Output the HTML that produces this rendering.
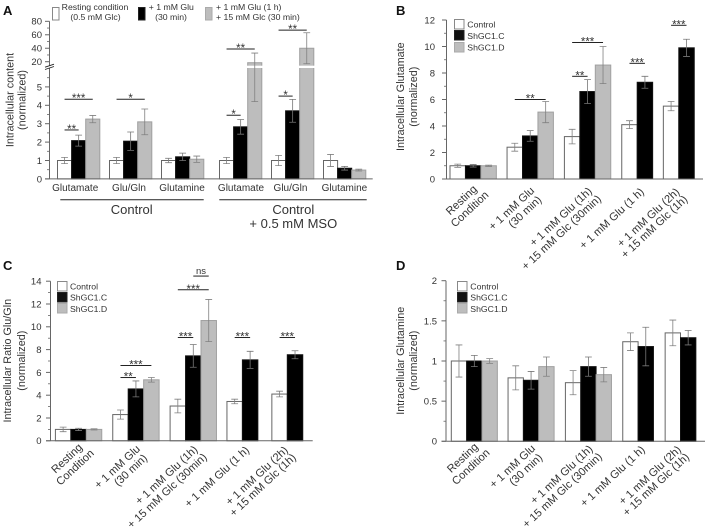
<!DOCTYPE html>
<html lang="en">
<head>
<meta charset="utf-8">
<title>Intracellular content charts</title>
<style>
html,body{margin:0;padding:0;background:#fff;}
#figure{display:block;width:708px;height:532px;font-family:"Liberation Sans",Arial,sans-serif;fill:#333;filter:blur(0.3px);}
.letter{font-size:13px;font-weight:bold;fill:#111;}
.title{font-size:10.8px;text-anchor:middle;}
.leg{font-size:8.7px;}
.legc{font-size:8.7px;text-anchor:middle;}
.big{font-size:13px;text-anchor:middle;}
</style>
</head>
<body>
<svg id="figure" xmlns="http://www.w3.org/2000/svg" width="708" height="532" viewBox="0 0 708 532">
  <rect x="0" y="0" width="708" height="532" fill="#fff"/>
  <text class="letter" x="3" y="15">A</text>
  <text class="letter" x="396" y="15">B</text>
  <text class="letter" x="3" y="270">C</text>
  <text class="letter" x="396" y="270">D</text>

  <text class="title" transform="translate(13.5,100) rotate(-90)">Intracellular content</text>
  <text class="title" transform="translate(25.5,100) rotate(-90)">(normalized)</text>
  <text class="title" transform="translate(404,96.7) rotate(-90)">Intracellular Glutamate</text>
  <text class="title" transform="translate(417,96.7) rotate(-90)">(normalized)</text>
  <text class="title" transform="translate(11,360.7) rotate(-90)">Intracellular Ratio Glu/Gln</text>
  <text class="title" transform="translate(25,360.7) rotate(-90)">(normalized)</text>
  <text class="title" transform="translate(404,360.7) rotate(-90)">Intracellular Glutamine</text>
  <text class="title" transform="translate(417,360.7) rotate(-90)">(normalized)</text>

  <g>
    <rect x="52.5" y="7.5" width="6.5" height="12.5" fill="#fff" stroke="#888"/>
    <text class="legc" x="95" y="10">Resting condition</text>
    <text class="legc" x="95.5" y="20">(0.5 mM Glc)</text>
    <rect x="138.5" y="7.5" width="6.5" height="12.5" fill="#000" stroke="#222"/>
    <text class="legc" x="171.3" y="10">+ 1 mM Glu</text>
    <text class="legc" x="171" y="20">(30 min)</text>
    <rect x="205.5" y="7.5" width="6.5" height="12.5" fill="#bdbdbd" stroke="#aaa"/>
    <text class="leg" x="216" y="10">+ 1 mM Glu (1 h)</text>
    <text class="leg" x="216" y="20">+ 15 mM Glc (30 min)</text>
  </g>

  <g>
    <line x1="60.3" x2="203.7" y1="199.7" y2="199.7" stroke="#222" stroke-width="1"/>
    <line x1="219.3" x2="366.7" y1="199.7" y2="199.7" stroke="#222" stroke-width="1"/>
    <text class="big" x="131.7" y="214">Control</text>
    <text class="big" x="293.3" y="214">Control</text>
    <text class="big" x="293.3" y="228">+ 0.5 mM MSO</text>
  </g>

  <g>
    <rect x="454.5" y="19.5" width="9.5" height="9.5" fill="#fff" stroke="#888"/>
    <text class="leg" x="467.3" y="27.5">Control</text>
    <rect x="454.5" y="30.5" width="9.5" height="9.5" fill="#111" stroke="#222"/>
    <text class="leg" x="467.3" y="39">ShGC1.C</text>
    <rect x="454.5" y="42.5" width="9.5" height="9.5" fill="#bdbdbd" stroke="#aaa"/>
    <text class="leg" x="467.3" y="50.5">ShGC1.D</text>
  </g>
  <g>
    <rect x="57.5" y="281.5" width="9.5" height="9.5" fill="#fff" stroke="#888"/>
    <text class="leg" x="70" y="289.5">Control</text>
    <rect x="57.5" y="292.5" width="9.5" height="9.5" fill="#111" stroke="#222"/>
    <text class="leg" x="70" y="300.5">ShGC1.C</text>
    <rect x="57.5" y="303.5" width="9.5" height="9.5" fill="#bdbdbd" stroke="#aaa"/>
    <text class="leg" x="70" y="312">ShGC1.D</text>
  </g>
  <g>
    <rect x="457.5" y="281.5" width="9.5" height="9.5" fill="#fff" stroke="#888"/>
    <text class="leg" x="470.3" y="289.5">Control</text>
    <rect x="457.5" y="292.5" width="9.5" height="9.5" fill="#111" stroke="#222"/>
    <text class="leg" x="470.3" y="300.5">ShGC1.C</text>
    <rect x="457.5" y="303.5" width="9.5" height="9.5" fill="#bdbdbd" stroke="#aaa"/>
    <text class="leg" x="470.3" y="312">ShGC1.D</text>
  </g>
</svg>
<script>
/* ---------- Panel A data ---------- */
const categoriesA = ['Glutamate', 'Glu/Gln', 'Glutamine', 'Glutamate', 'Glu/Gln', 'Glutamine'];
const restingA = [1, 1, 1, 1, 1, 1];
const gluA = [2.08, 2.05, 1.2, 2.83, 3.7, 0.58];
const gluGlcA = [3.25, 3.1, 1.07, 18.5, 40, 0.48];
const restingErrA = [0.17, 0.17, 0.12, 0.17, 0.28, 0.33];
const gluErrA = [0.3, 0.5, 0.2, 0.4, 0.62, 0.1];
const gluGlcErrA = [0.2, 0.7, 0.17, 14.3, 23, 0.05];
const lowerTicksA = [0, 1, 2, 3, 4, 5];
const upperTicksA = [20, 40, 60, 80];
const minorTicksA = [0.5, 1.5, 2.5, 3.5, 4.5, 5.5, 30, 50, 70];
const bracketsA = [
  {group: 0, from: 0, to: 2, level: 4.33, label: '***'},
  {group: 0, from: 0, to: 1, level: 2.66, label: '**'},
  {group: 1, from: 0, to: 2, level: 4.33, label: '*'},
  {group: 3, from: 0, to: 1, level: 3.46, label: '*'},
  {group: 3, from: 0, to: 2, level: 38.9, label: '**'},
  {group: 4, from: 0, to: 1, level: 4.5, label: '*'},
  {group: 4, from: 0, to: 2, level: 67, label: '**'}
];

/* ---------- Panel B data ---------- */
const categoriesB = [['Resting', 'Condition'], ['+ 1 mM Glu', '(30 min)'], ['+ 1 mM Glu (1h)', '+ 15 mM Glc (30min)'], ['+ 1 mM Glu (1 h)'], ['+ 1 mM Glu (2h)', '+ 15 mM Glc (1h)']];
const controlB = [1, 2.4, 3.2, 4.1, 5.5];
const shcB = [1, 3.25, 6.6, 7.3, 9.9];
const shdB = [1, 5.05, 8.6, null, null];
const controlErrB = [0.12, 0.3, 0.55, 0.3, 0.35];
const shcErrB = [0.1, 0.4, 0.9, 0.45, 0.65];
const shdErrB = [0.05, 0.8, 1.4, null, null];
const ticksB = [0, 2, 4, 6, 8, 10, 12];
const minorTicksB = [1, 3, 5, 7, 9, 11];
const bracketsB = [
  {group: 1, from: 0, to: 2, level: 6.0, label: '**'},
  {group: 2, from: 0, to: 2, level: 10.3, label: '***'},
  {group: 2, from: 0, to: 1, level: 7.75, label: '**'},
  {group: 3, from: 0, to: 1, level: 8.73, label: '***'},
  {group: 4, from: 0, to: 1, level: 11.6, label: '***'}
];

/* ---------- Panel C data ---------- */
const categoriesC = [['Resting', 'Condition'], ['+ 1 mM Glu', '(30 min)'], ['+ 1 mM Glu (1h)', '+ 15 mM Glc (30min)'], ['+ 1 mM Glu (1 h)'], ['+ 1 mM Glu (2h)', '+ 15 mM Glc (1h)']];
const controlC = [1, 2.3, 3.05, 3.45, 4.1];
const shcC = [1, 4.55, 7.45, 7.1, 7.55];
const shdC = [1, 5.35, 10.55, null, null];
const controlErrC = [0.2, 0.4, 0.6, 0.2, 0.25];
const shcErrC = [0.1, 0.7, 1, 0.75, 0.35];
const shdErrC = [0.05, 0.2, 1.85, null, null];
const ticksC = [0, 2, 4, 6, 8, 10, 12, 14];
const minorTicksC = [1, 3, 5, 7, 9, 11, 13];
const bracketsC = [
  {group: 1, from: 0, to: 2, level: 6.6, label: '***'},
  {group: 1, from: 0, to: 1, level: 5.55, label: '**'},
  {group: 2, from: 0, to: 2, level: 13.25, label: '***'},
  {group: 2, from: 1, to: 2, level: 14.45, label: 'ns'},
  {group: 2, from: 0, to: 1, level: 9.06, label: '***'},
  {group: 3, from: 0, to: 1, level: 9.06, label: '***'},
  {group: 4, from: 0, to: 1, level: 9.06, label: '***'}
];

/* ---------- Panel D data ---------- */
const categoriesD = [['Resting', 'Condition'], ['+ 1 mM Glu', '(30 min)'], ['+ 1 mM Glu (1h)', '+ 15 mM Glc (30min)'], ['+ 1 mM Glu (1 h)'], ['+ 1 mM Glu (2h)', '+ 15 mM Glc (1h)']];
const controlD = [1, 0.79, 0.73, 1.24, 1.35];
const shcD = [1, 0.76, 0.93, 1.18, 1.29];
const shdD = [1, 0.93, 0.83, null, null];
const controlErrD = [0.2, 0.15, 0.15, 0.11, 0.16];
const shcErrD = [0.07, 0.11, 0.12, 0.24, 0.09];
const shdErrD = [0.03, 0.12, 0.09, null, null];
const ticksD = [0, 0.5, 1, 1.5, 2];
const minorTicksD = [0.25, 0.75, 1.25, 1.75];
const bracketsD = [];

/* ---------- Drawing ---------- */
const SVGNS = 'http://www.w3.org/2000/svg';
const figure = document.getElementById('figure');
const seriesFill = ['#ffffff', '#000000', '#bdbdbd'];
const seriesStroke = ['#666666', '#111111', '#a0a0a0'];
const seriesNames = ['control', 'treatment-c', 'treatment-d'];
const labelShift = [
  [[-11.8, 17.6], [-3.5, 26.6]],
  [[-18.7, 26], [-5.3, 29.3]],
  [[-26.8, 34.3], [-26.2, 50]],
  [[-25.5, 36]],
  [[-30.5, 35], [-24.5, 44.3]]
];

function shape(parent, tag, props) {
  const el = document.createElementNS(SVGNS, tag);
  for (const k in props) el.setAttribute(k, props[k]);
  parent.appendChild(el);
  return el;
}

function drawPanel(p) {
  const g = shape(figure, 'g', {});
  
  

  const starts = [];
  let cursor = p.x0;
  p.series[0].forEach(function (_, i) {
    starts.push(cursor);
    const count = p.series.filter(function (s) { return s[i] !== null; }).length;
    cursor += count * p.barW + p.gaps[i];
  });
  const xBar = function (group, s) { return starts[group] + s * p.barW; };

  /* bars */
  p.series.forEach(function (values, s) {
    values.forEach(function (v, i) {
      if (v === null) return;
      const top = p.y(v);
      const bar = shape(g, 'rect', {x: xBar(i, s), y: top, width: p.barW, height: p.y(0) - top, fill: seriesFill[s], stroke: seriesStroke[s], 'stroke-width': 1});
      
      
      if (p.breakY && v > p.breakValue) {
        const gap = shape(g, 'rect', {x: xBar(i, s) - 1, y: p.breakY[0], width: p.barW + 2, height: p.breakY[1] - p.breakY[0], fill: '#ffffff'});
        
        
      }
    });
  });

  /* error bars */
  p.errors.forEach(function (errs, s) {
    errs.forEach(function (e, i) {
      if (e === null) return;
      const v = p.series[s][i];
      const cx = xBar(i, s) + p.barW / 2;
      const hi = p.y(v + e), lo = p.y(v - e);
      const path = 'M' + cx + ' ' + hi + 'V' + lo + 'M' + (cx - 3.4) + ' ' + hi + 'H' + (cx + 3.4) + 'M' + (cx - 3.4) + ' ' + lo + 'H' + (cx + 3.4);
      const bar = shape(g, 'path', {d: path, fill: 'none', stroke: s === 1 ? '#777777' : '#808080', 'stroke-width': 0.8});
      
      
    });
  });

  /* axes */
  const axisColor = '#666666';
  const xLine = shape(g, 'line', {x1: p.axisX - 4.5, x2: p.axisEnd, y1: p.y(0), y2: p.y(0), stroke: axisColor, 'stroke-width': 1});
  
  

  if (p.breakY) {
    const lowerAxis = shape(g, 'line', {x1: p.axisX, x2: p.axisX, y1: p.y(0), y2: p.breakY[1], stroke: axisColor, 'stroke-width': 1});
    
    
    const upperAxis = shape(g, 'line', {x1: p.axisX, x2: p.axisX, y1: p.breakY[0], y2: p.y(p.yTop), stroke: axisColor, 'stroke-width': 1});
    
    
    p.breakY.forEach(function (by) {
      const slash = shape(g, 'line', {x1: p.axisX - 4.5, x2: p.axisX + 4.5, y1: by + 1.5, y2: by - 1.5, stroke: '#222222', 'stroke-width': 0.9});
      
      
    });
  } else {
    const yLine = shape(g, 'line', {x1: p.axisX, x2: p.axisX, y1: p.y(0), y2: p.y(p.yTop), stroke: axisColor, 'stroke-width': 1});
    
    
  }

  p.ticks.forEach(function (t) {
    const tick = shape(g, 'line', {x1: p.axisX - 4.5, x2: p.axisX, y1: p.y(t), y2: p.y(t), stroke: axisColor, 'stroke-width': 1});
    
    
    const label = shape(g, 'text', {x: p.labelRight, y: p.y(t) + 3.4, 'text-anchor': 'end', 'font-size': 9.5});
    label.textContent = String(t);
    
    
  });
  p.minor.forEach(function (t) {
    const tick = shape(g, 'line', {x1: p.axisX - 2.5, x2: p.axisX, y1: p.y(t), y2: p.y(t), stroke: axisColor, 'stroke-width': 0.8});
    
    
  });

  /* category labels */
  p.categories.forEach(function (cat, i) {
    const count = p.series.filter(function (s) { return s[i] !== null; }).length;
    const center = starts[i] + count * p.barW / 2;
    if (typeof cat === 'string') {
      const label = shape(g, 'text', {x: p.plainLabelX[i], y: p.y(0) + 12, 'text-anchor': 'middle', 'font-size': 10});
      label.textContent = cat;
      
      
      return;
    }
    cat.forEach(function (line, j) {
      const lx = center + labelShift[i][j][0];
      const ly = p.y(0) + labelShift[i][j][1] + p.labelDy;
      const label = shape(g, 'text', {transform: 'translate(' + lx + ',' + ly + ') rotate(-43)', y: 3.6, 'text-anchor': 'middle', 'font-size': 11.1});
      label.textContent = line;
      
      
    });
  });

  /* significance brackets */
  p.brackets.forEach(function (b) {
    const x1 = xBar(b.group, b.from) + p.barW / 2;
    const x2 = xBar(b.group, b.to) + p.barW / 2;
    const yy = p.y(b.level);
    const line = shape(g, 'line', {x1: x1, x2: x2, y1: yy, y2: yy, stroke: '#222222', 'stroke-width': 1});
    
    
    const isNs = b.label === 'ns';
    const mark = shape(g, 'text', {x: (x1 + x2) / 2, y: isNs ? yy - 2 : yy + 3, 'text-anchor': 'middle', 'font-size': isNs ? 9.5 : 11.5});
    mark.textContent = b.label;
    
    
  });
}

function linearY(zero, pxPerUnit) {
  return function (v) { return zero - v * pxPerUnit; };
}
function brokenY(v) {
  return v < 8 ? 178.9 - v * 18.4 : 61.7 - (v - 20) * 0.673;
}

drawPanel({
  id: 'a', x0: 57.5, barW: 14.1, gaps: [9.7, 9.7, 15.7, 9.7, 9.7, 0],
  series: [restingA, gluA, gluGlcA], errors: [restingErrA, gluErrA, gluGlcErrA],
  y: brokenY, yTop: 80, breakY: [65.7, 68], breakValue: 8,
  axisX: 49.5, axisEnd: 372.7, labelRight: 42, labelDy: 0,
  ticks: lowerTicksA.concat(upperTicksA), minor: minorTicksA,
  categories: categoriesA, plainLabelX: [75.2, 129, 182, 241, 290.5, 344.4],
  brackets: bracketsA
});
drawPanel({
  id: 'b', x0: 450, barW: 15.45, gaps: [10.7, 11, 11, 10.7, 0],
  series: [controlB, shcB, shdB], errors: [controlErrB, shcErrB, shdErrB],
  y: linearY(179, 13.25), yTop: 12,
  axisX: 446.5, axisEnd: 703, labelRight: 435, labelDy: 3.5,
  ticks: ticksB, minor: minorTicksB,
  categories: categoriesB, brackets: bracketsB
});
drawPanel({
  id: 'c', x0: 55.4, barW: 15.45, gaps: [11, 11, 10.5, 14, 0],
  series: [controlC, shcC, shdC], errors: [controlErrC, shcErrC, shdErrC],
  y: linearY(440.8, 11.4), yTop: 14,
  axisX: 50.5, axisEnd: 312.7, labelRight: 41.5, labelDy: 0,
  ticks: ticksC, minor: minorTicksC,
  categories: categoriesC, brackets: bracketsC
});
drawPanel({
  id: 'd', x0: 451.3, barW: 15.35, gaps: [10.7, 11.3, 11.3, 11.7, 0],
  series: [controlD, shcD, shdD], errors: [controlErrD, shcErrD, shdErrD],
  y: linearY(441.3, 80.3), yTop: 2,
  axisX: 446, axisEnd: 705, labelRight: 437, labelDy: -1,
  ticks: ticksD, minor: minorTicksD,
  categories: categoriesD, brackets: bracketsD
});
</script>
</body>
</html>
